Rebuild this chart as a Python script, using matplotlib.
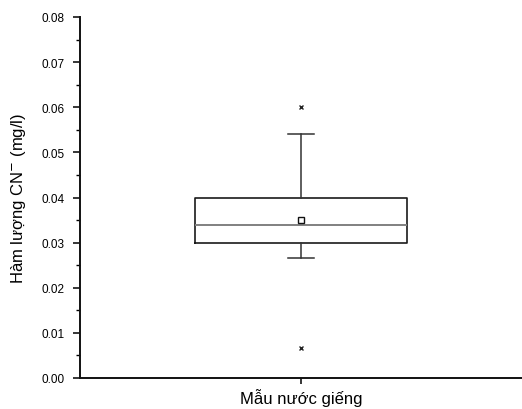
import matplotlib
matplotlib.use("Agg")
import matplotlib.pyplot as plt
from matplotlib.ticker import MultipleLocator, FormatStrFormatter

plt.rcParams['font.family'] = ['Liberation Sans', 'DejaVu Sans']

category = ["Mẫu nước giếng"]
q1 = [0.030]
median = [0.0338]
q3 = [0.040]
whisker_low = [0.0267]
whisker_high = [0.054]
mean = [0.035]
outliers = [[0.060, 0.0066]]

stats = []
for i in range(len(category)):
    stats.append(dict(label=category[i], q1=q1[i], med=median[i], q3=q3[i],
                      whislo=whisker_low[i], whishi=whisker_high[i],
                      mean=mean[i], fliers=outliers[i]))

fig = plt.figure(figsize=(5.22, 4.10), dpi=100)
ax = fig.add_axes([80/522, 31/410, 442/522, 361/410])

ax.bxp(stats, positions=[1], widths=0.48, showmeans=True, showfliers=True,
       capwidths=0.059,
       boxprops=dict(color='#1a1a1a', linewidth=1.2),
       medianprops=dict(color='#808080', linewidth=1.4),
       whiskerprops=dict(color='#333333', linewidth=1.1),
       capprops=dict(color='#333333', linewidth=1.1),
       meanprops=dict(marker='s', markerfacecolor='white', markeredgecolor='#111111',
                      markersize=4, markeredgewidth=1.0),
       flierprops=dict(marker='x', markeredgecolor='#222222', markersize=3.5,
                       markeredgewidth=1.0))

ax.set_xlim(0.5, 1.5)
ax.set_ylim(0.0, 0.08)
ax.yaxis.set_major_locator(MultipleLocator(0.01))
ax.yaxis.set_minor_locator(MultipleLocator(0.005))
ax.yaxis.set_major_formatter(FormatStrFormatter('%.2f'))

for s in ['top', 'right']:
    ax.spines[s].set_visible(False)
for s in ['left', 'bottom']:
    ax.spines[s].set_linewidth(1.4)
    ax.spines[s].set_color('#111111')

ax.tick_params(axis='y', which='major', length=5, width=1.1, labelsize=8.5,
               direction='out', pad=6)
ax.tick_params(axis='y', which='minor', length=3, width=1.0, direction='out')
ax.tick_params(axis='x', which='major', length=4, width=1.1, labelsize=12,
               direction='out', pad=3)
ax.set_xticks([1])
ax.set_xticklabels(category)

ax.set_ylabel("Hàm lượng CN$^{-}$ (mg/l)", fontsize=12, labelpad=10)

fig.savefig("out.png", dpi=100)
